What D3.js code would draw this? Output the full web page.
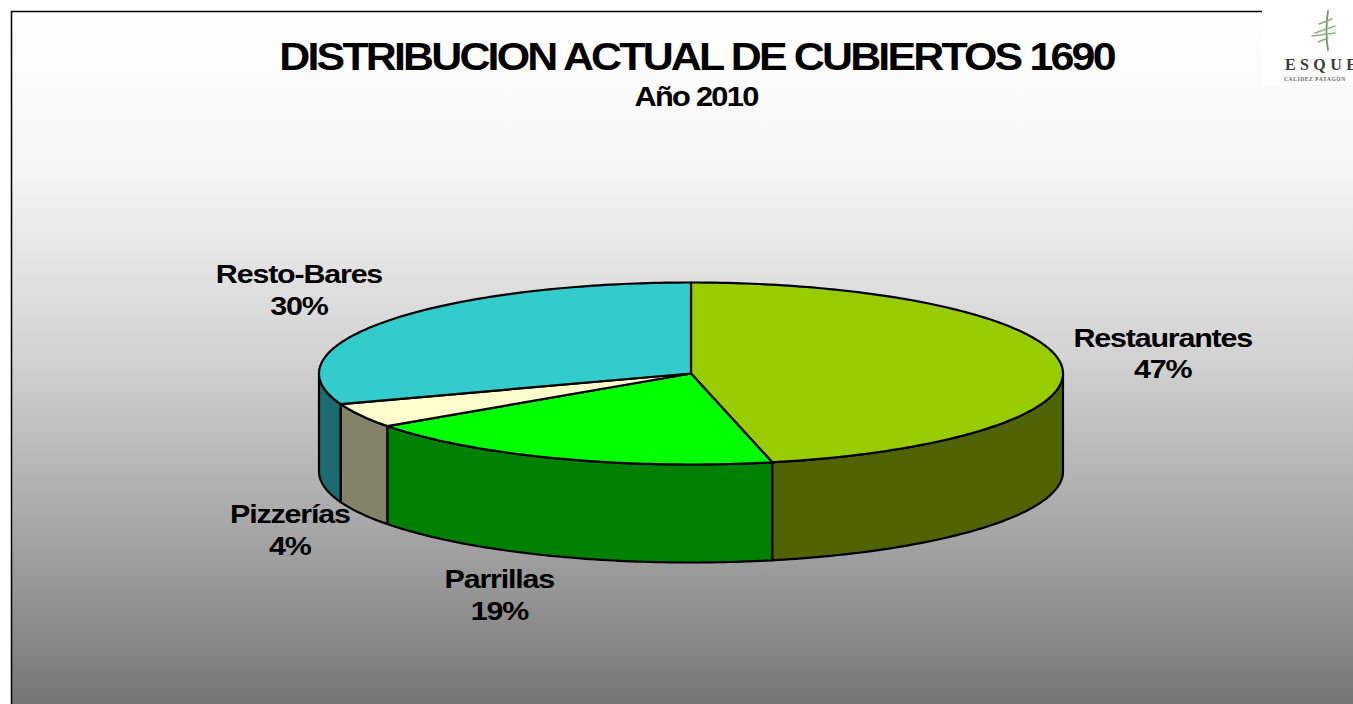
<!DOCTYPE html>
<html>
<head>
<meta charset="utf-8">
<script src="https://cdn.jsdelivr.net/npm/d3@7"></script>
<style>
  html, body { margin: 0; padding: 0; background: #fff; overflow: hidden; }
  text { font-family: "Liberation Sans", Arial, sans-serif; font-weight: bold; fill: #000; }
</style>
</head>
<body>
<div id="chart"></div>
<script>
// data (shares of 1690 cubiertos, year 2010)
var categories = ["Restaurantes", "Parrillas", "Pizzerías", "Resto-Bares"];
var shares = [46.5, 18.7, 4.35, 30.45];
var titleText = "DISTRIBUCION ACTUAL DE CUBIERTOS 1690";
var subtitleText = "Año 2010";

// colours for the top of each slice and for its wall
var topColors = ["#99cc00", "#00ff00", "#ffffcc", "#33cccc"];
var wallColors = ["#4f6300", "#008000", "#84836a", "#1c6b70"];

// label offset from the rim point of each slice, px
var labelOffsets = [[102, -17], [-58, 130], [-71, 108], [-88, -38]];

var width = 1353, height = 704;
var cx = 691, cy = 373.5, rx = 372, ry = 91, depth = 98;

var svg = d3.select("#chart").append("svg")
  .attr("width", width)
  .attr("height", height)
  .style("display", "block");

// background panel
var grad = svg.append("defs").append("linearGradient")
  .attr("id", "bg")
  .attr("gradientUnits", "userSpaceOnUse")
  .attr("x1", 0).attr("y1", 11).attr("x2", 0).attr("y2", height);
grad.append("stop").attr("offset", "0%").attr("stop-color", "#ffffff");
grad.append("stop").attr("offset", "22%").attr("stop-color", "#f6f6f6");
grad.append("stop").attr("offset", "50%").attr("stop-color", "#d2d2d2");
grad.append("stop").attr("offset", "75%").attr("stop-color", "#a6a6a6");
grad.append("stop").attr("offset", "100%").attr("stop-color", "#767676");

svg.append("rect")
  .attr("x", 11.5).attr("y", 11.5)
  .attr("width", width + 20).attr("height", height + 20)
  .attr("fill", "url(#bg)")
  .attr("stroke", "#000")
  .attr("stroke-width", 1.5);

// titles, the original glyphs are wide and set very tight
svg.append("text")
  .attr("transform", "translate(696.5,70) scale(1.13,1)")
  .attr("text-anchor", "middle")
  .style("font-size", "38px")
  .style("letter-spacing", "-2.5px")
  .text(titleText);
svg.append("text")
  .attr("transform", "translate(696,106) scale(1.14,1)")
  .attr("text-anchor", "middle")
  .style("font-size", "27px")
  .style("letter-spacing", "-1.5px")
  .text(subtitleText);

// slices, clockwise from 12 o'clock
var slices = d3.pie().sort(null)(shares);

var px = d3.scaleLinear().domain([-1, 1]).range([cx - rx, cx + rx]);
var py = d3.scaleLinear().domain([-1, 1]).range([cy - ry, cy + ry]);
var rimX = function(a) { return px(Math.sin(a)); };
var rimY = function(a) { return py(-Math.cos(a)); };

var rimAngles = function(a0, a1) {
  var n = Math.max(2, Math.ceil((a1 - a0) * 60));
  return d3.range(n + 1).map(function(i) { return a0 + (a1 - a0) * i / n; });
};

// walls are only seen on the front half of the pie
var walls = svg.append("g");
slices.forEach(function(d, i) {
  var a0 = Math.max(d.startAngle, Math.PI / 2);
  var a1 = Math.min(d.endAngle, Math.PI * 1.5);
  if (a1 <= a0) return;
  var upper = rimAngles(a0, a1).map(function(a) { return [rimX(a), rimY(a)]; });
  var lower = rimAngles(a0, a1).reverse().map(function(a) { return [rimX(a), rimY(a) + depth]; });
  walls.append("path")
    .attr("d", d3.line()(upper.concat(lower)) + "Z")
    .attr("fill", wallColors[i])
    .attr("stroke", "#000")
    .attr("stroke-width", 2.2)
    .attr("stroke-linejoin", "round");
});

// tops
var tops = svg.append("g");
slices.forEach(function(d, i) {
  var pts = rimAngles(d.startAngle, d.endAngle).map(function(a) { return [rimX(a), rimY(a)]; });
  pts.unshift([px(0), py(0)]);
  tops.append("path")
    .attr("d", d3.line()(pts) + "Z")
    .attr("fill", topColors[i])
    .attr("stroke", "#000")
    .attr("stroke-width", 2.2)
    .attr("stroke-linejoin", "round");
});

// labels
var pct = d3.format(".0f");
slices.forEach(function(d, i) {
  var mid = (d.startAngle + d.endAngle) / 2;
  var x = rimX(mid) + labelOffsets[i][0];
  var y = rimY(mid) + labelOffsets[i][1];
  var g = svg.append("g").attr("transform", "translate(" + x + "," + y + ") scale(1.17,1)");
  g.append("text")
    .attr("text-anchor", "middle")
    .style("font-size", "26px")
    .style("letter-spacing", "-1px")
    .text(categories[i]);
  g.append("text")
    .attr("y", 31.5)
    .attr("text-anchor", "middle")
    .style("font-size", "26px")
    .style("letter-spacing", "-1px")
    .text(pct(d.value) + "%");
});

// logo in the top right corner
var logo = svg.append("g");
logo.append("rect")
  .attr("x", 1262).attr("y", 0)
  .attr("width", 91).attr("height", 85)
  .attr("fill", "#fff");
var tree = logo.append("g")
  .attr("fill", "none")
  .attr("stroke-linecap", "round");
tree.append("path")
  .attr("d", "M1328,11 C1326,24 1326,38 1328,50")
  .attr("stroke", "#7d8f78")
  .attr("stroke-width", 1.8);
tree.append("path")
  .attr("d", "M1319,24 L1332,19 M1315,33 L1335,26 M1312,36 L1335,33 M1318,42 L1328,38")
  .attr("stroke", "#8fae80")
  .attr("stroke-width", 1.4);
logo.append("text")
  .attr("x", 1285).attr("y", 70)
  .style("font-family", "'Liberation Serif', serif")
  .style("font-weight", "bold")
  .style("font-size", "16px")
  .style("letter-spacing", "4.4px")
  .style("fill", "#3a3a3a")
  .text("ESQUE");
logo.append("text")
  .attr("x", 1284).attr("y", 81)
  .style("font-family", "'Liberation Serif', serif")
  .style("font-size", "5.5px")
  .style("letter-spacing", "0.6px")
  .style("fill", "#666")
  .text("CALIDEZ PATAGÓN");
</script>
</body>
</html>
